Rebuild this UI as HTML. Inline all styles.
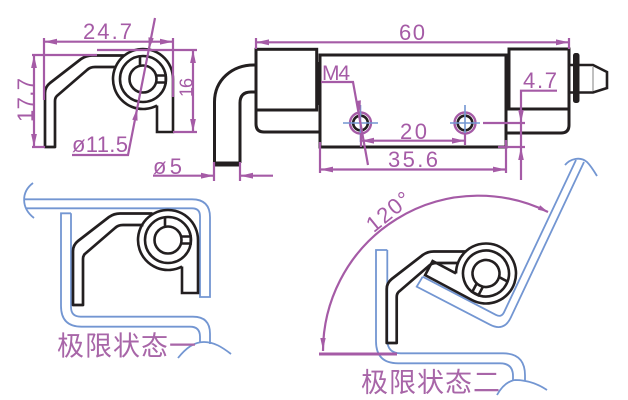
<!DOCTYPE html>
<html><head><meta charset="utf-8">
<style>html,body{margin:0;padding:0;background:#fff;}svg{display:block}</style>
</head><body>
<svg width="628" height="400" viewBox="0 0 628 400" xmlns="http://www.w3.org/2000/svg">
<defs>
<marker id="ar" markerUnits="userSpaceOnUse" markerWidth="14" markerHeight="7" refX="13" refY="3.5" orient="auto-start-reverse" viewBox="0 0 14 7"><path d="M0,0.6 L13,3.5 L0,6.4 z" fill="#a55ba6"/></marker>
<path id="leafA" d="M124.5 55.5 L92 55.5 Q86 55.5 81 59 L50 83 Q45 87 45 93 L45 147 L55 147 L55 101 Q55 97 58 95 L87 70 Q90 67 95 67 L115.5 67" fill="none" stroke="#231f20" stroke-width="2.7" stroke-linejoin="round"/>
<g id="knuckle" fill="none" stroke="#231f20" stroke-width="2.6">
<path d="M14.08 26.49 A30 30 0 1 1 30 0 L30 53 L14 53 L14 26.49"/>
<circle r="23"/>
<circle r="13.5"/>
<path d="M-3 -23 L-3 -13.5"/>
<path d="M13.2 -3.5 H22.7 V3.5 H13.2"/>
</g>
</defs>
<rect width="628" height="400" fill="#fff"/>

<!-- ===== BLUE ===== -->
<g fill="none" stroke="#7396d2" stroke-width="1.8">
<!-- state 1 top leaf -->
<path d="M25 199.3 L192 199.3 Q210 199.3 210 217.3 L210 297 L200 297 L200 216.3 Q200 208.3 192 208.3 L26 208.3"/>
<path d="M33 183 C21 192, 21 208, 34 218"/>
<!-- state 1 bottom leaf -->
<path d="M71 213.3 L61 213.3 L61 306 Q61 326.7 81.7 326.7 L190 326.7 Q200 326.7 200 336.7 L200 342"/>
<path d="M71 213.3 L71 307 Q71 316.7 80.7 316.7 L193 316.7 Q210 316.7 210 333.7 L210 344"/>
<path d="M178 358 C186 348, 194 342, 204 342 C214 342, 222 347, 231 354"/>
<!-- state 2 fixed leaf -->
<path d="M387.3 250 L376 250 L376 341.3 Q376 363.3 398 363.3 L500 363.3 Q513 363.3 513 376 L513 381"/>
<path d="M387.3 250 L387.3 340 Q387.3 353.3 400.6 353.3 L503 353.3 Q525 353.3 525 375.3 L525 381"/>
<path d="M497 395 C502 386, 508 381, 515 380 C527 380, 538 384, 547 390"/>
<!-- state 2 moving leaf -->
<path d="M422.7 276.7 L496 314.9 Q501.4 317.7 504 312.3 L576 160"/>
<path d="M422.7 276.7 L416.7 286.7 L489.8 324.6 Q504 332 510.8 317.5 L584 162"/>
<path d="M565 165 C570 159, 580 156, 587 162 C591 166, 594 171, 597 176"/>
</g>

<!-- ===== BLACK ===== -->
<!-- top-left hinge -->
<use href="#leafA"/>
<use href="#knuckle" transform="translate(143,79)"/>
<!-- state 1 hinge -->
<use href="#leafA" transform="translate(28,158)"/>
<use href="#knuckle" transform="translate(168,240)"/>
<!-- state 2 hinge -->
<use href="#leafA" transform="translate(341.7,196)"/>
<use href="#knuckle" transform="translate(486,273.5) rotate(118)"/>

<g fill="none" stroke="#231f20" stroke-width="3">
<!-- elbow tube -->
<path d="M214.5 163 L214.5 102 C214.5 80 232 65 254 65 L256 65"/>
<path d="M240 163 L240 103 Q240 92 251 92 L256 92"/>
<!-- block 1 -->
<rect x="256" y="49.3" width="60.7" height="60.7"/>
<path d="M256 110 L256 124 Q256 132 264 132 L320 132"/>
<!-- plate -->
<rect x="320" y="55" width="186" height="92"/>
<!-- block 2 -->
<rect x="509" y="49" width="60" height="60"/>
<path d="M569 109 L569 125 Q569 133 561 133 L507 133"/>
<!-- pin end -->
<path d="M569 65 L593 65 L607 72 L607 88 L593 92.5 L569 92.5" stroke-width="2.6"/>
</g>
<rect x="214" y="161.5" width="26" height="5" fill="#231f20"/>
<path d="M318.5 62 L318.5 105 M507.5 62 L507.5 106" stroke="#231f20" stroke-width="2"/>
<rect x="573" y="53" width="6.5" height="50" rx="2.5" fill="#231f20"/>
<path d="M593 67 L593 91" stroke="#aaa" stroke-width="1.5"/>

<!-- holes -->
<g>
<circle cx="360.5" cy="123" r="10.5" fill="none" stroke="#a55ba6" stroke-width="2.4"/>
<circle cx="360.5" cy="123" r="7.3" fill="none" stroke="#231f20" stroke-width="2.6"/>
<circle cx="465" cy="123" r="10.5" fill="none" stroke="#a55ba6" stroke-width="2.4"/>
<circle cx="465" cy="123" r="7.3" fill="none" stroke="#231f20" stroke-width="2.6"/>
<path d="M343 123 H378 M360.5 105 V142 M450 123 H480 M465 105 V134" stroke="#7396d2" stroke-width="1.6"/>
</g>

<!-- ===== MAGENTA DIMENSIONS ===== -->
<g stroke="#a55ba6" stroke-width="2.2" fill="none">
<!-- 24.7 -->
<line x1="44" y1="41.7" x2="173" y2="41.7" marker-start="url(#ar)" marker-end="url(#ar)"/>
<path d="M44 38 L44 100 M173 38 L173 97"/>
<!-- 17.7 -->
<line x1="34" y1="55" x2="34" y2="147" marker-start="url(#ar)" marker-end="url(#ar)"/>
<path d="M32 55 L97 55 M32 147 L45 147"/>
<!-- 16 -->
<line x1="193" y1="50" x2="193" y2="132" marker-start="url(#ar)" marker-end="url(#ar)"/>
<path d="M97 50 L197 50 M173 132 L197 132"/>
<!-- dia 11.5 -->
<path d="M155 18 L128 155 L72 155"/>
<!-- dia 5 -->
<line x1="153" y1="175.7" x2="214" y2="175.7" marker-end="url(#ar)"/>
<line x1="273" y1="175.7" x2="240" y2="175.7" marker-end="url(#ar)"/>
<path d="M214 162 L214 181 M240 162 L240 181"/>
<!-- 60 -->
<line x1="256" y1="42.3" x2="569" y2="42.3" marker-start="url(#ar)" marker-end="url(#ar)"/>
<path d="M256 38 L256 49 M569 38 L569 49"/>
<!-- M4 -->
<path d="M321 82 L353 82 L368 165"/>
<!-- 20 -->
<line x1="361" y1="140.7" x2="465" y2="140.7" marker-start="url(#ar)" marker-end="url(#ar)"/>
<path d="M361 133 L361 147 M465 133 L465 145"/>
<!-- 35.6 -->
<line x1="320" y1="169.5" x2="506" y2="169.5" marker-start="url(#ar)" marker-end="url(#ar)"/>
<path d="M320 142 L320 173 M506 140 L506 173"/>
<!-- 4.7 -->
<path d="M557 90.7 L521 90.7 L521 180"/>
<path d="M483 123 L525 123 M498 147 L525 147"/>
<!-- 120 deg -->
<path d="M323 351 A155.6 155.6 0 0 1 548 212"/>
<path d="M319 354 L397 354" stroke-width="3"/>
</g>
<g fill="#a55ba6">
<polygon points="148.8,49.6 153.75,38.3 148.45,37.3"/>
<polygon points="137.2,108.4 137.55,120.7 132.25,119.7"/>
<polygon points="360.3,112.5 360.86,100.2 355.54,101.2"/>
<polygon points="521,123 518.2,110 523.8,110"/>
<polygon points="521,147 518.2,160 523.8,160"/>
<polygon points="323,350 320.3,338 325.7,338"/>
<polygon points="548,212 537.9,209.7 540.1,205.3"/>
</g>

<!-- ===== TEXT ===== -->
<g font-family="'Liberation Sans', sans-serif" font-size="22" fill="#a55ba6">
<text x="83" y="39" textLength="49" lengthAdjust="spacing">24.7</text>
<text transform="translate(33,122) rotate(-90)" textLength="44" lengthAdjust="spacing">17.7</text>
<text transform="translate(192.5,97) rotate(-90)" font-size="18" textLength="19" lengthAdjust="spacing">16</text>
<text x="72" y="152" textLength="56" lengthAdjust="spacing">ø11.5</text>
<text x="153" y="174" textLength="29" lengthAdjust="spacing">ø5</text>
<text x="399" y="40" textLength="26" lengthAdjust="spacing">60</text>
<text x="322" y="80" font-size="21" textLength="28" lengthAdjust="spacing">M4</text>
<text x="523" y="88" textLength="34" lengthAdjust="spacing">4.7</text>
<text x="400" y="139" textLength="27" lengthAdjust="spacing">20</text>
<text x="388" y="167" textLength="50" lengthAdjust="spacing">35.6</text>
<text transform="translate(373.6,233.3) rotate(-39)" textLength="50" lengthAdjust="spacing">120°</text>
</g>
<g font-family="'Liberation Sans', 'Noto Sans CJK SC', sans-serif" font-size="27" fill="#a866a8">
<text x="57" y="355.5" textLength="139" lengthAdjust="spacing">极限状态一</text>
<text x="361" y="392" textLength="139" lengthAdjust="spacing">极限状态二</text>
</g>
</svg>
</body></html>
